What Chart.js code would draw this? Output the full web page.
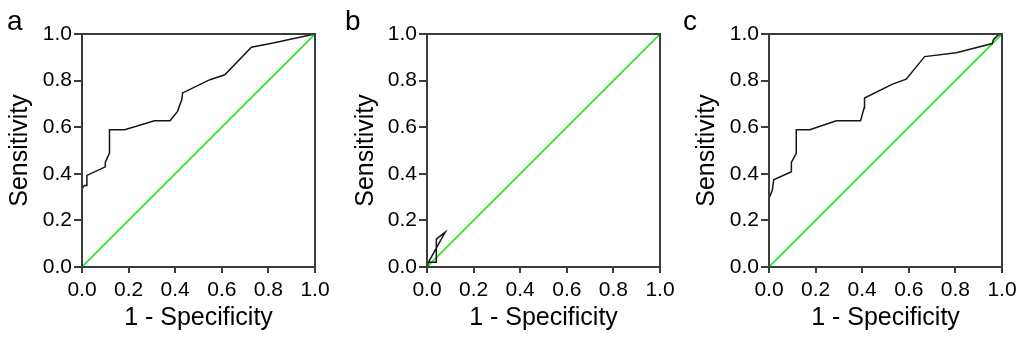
<!DOCTYPE html>
<html>
<head>
<meta charset="utf-8">
<script src="https://cdn.jsdelivr.net/npm/chart.js@4.4.0/dist/chart.umd.min.js"></script>
<style>
  html, body { margin: 0; padding: 0; background: #fff; }
  body { width: 1024px; height: 342px; position: relative; overflow: hidden; }
  .panel { position: absolute; top: 0; height: 342px; }
</style>
</head>
<body>
<div class="panel" style="left:0;width:340px"><canvas id="rocA"></canvas></div>
<div class="panel" style="left:340px;width:340px"><canvas id="rocB"></canvas></div>
<div class="panel" style="left:680px;width:344px"><canvas id="rocC"></canvas></div>
<script>
/* ROC curves, three panels (a, b, c) */

// shared
const panelLetters = ['a', 'b', 'c'];
const axisTicks = [0, 0.2, 0.4, 0.6, 0.8, 1.0];
const xTitle = '1 - Specificity';
const yTitle = 'Sensitivity';

// reference (chance) line
const diagX = [0, 1];
const diagY = [0, 1];

// panel a
const rocAX = [0, 0.01, 0.021, 0.021, 0.1, 0.1, 0.118, 0.118, 0.183, 0.311, 0.378, 0.41, 0.428, 0.432, 0.549, 0.613, 0.727, 0.82, 1.0];
const rocAY = [0.335, 0.35, 0.35, 0.393, 0.43, 0.45, 0.489, 0.589, 0.589, 0.628, 0.628, 0.668, 0.718, 0.747, 0.804, 0.825, 0.943, 0.961, 1.0];

// panel b
const rocBX = [0, 0.006, 0.04, 0.04, 0.078, 0.006];
const rocBY = [0, 0.02, 0.02, 0.12, 0.15, 0.02];

// panel c
const rocCX = [0, 0.014, 0.02, 0.096, 0.096, 0.117, 0.117, 0.175, 0.289, 0.393, 0.408, 0.41, 0.53, 0.589, 0.668, 0.804, 0.958, 0.964, 0.983, 1.0];
const rocCY = [0.295, 0.328, 0.374, 0.409, 0.449, 0.488, 0.589, 0.589, 0.628, 0.628, 0.682, 0.725, 0.785, 0.806, 0.903, 0.92, 0.959, 0.977, 0.996, 1.0];

const FONT = "'Liberation Sans', Arial, sans-serif";
const AXIS_COLOR = '#3c3c3c';
const GREEN = '#22e622';

function toPoints(xs, ys) {
  return xs.map((x, i) => ({ x: x, y: ys[i] }));
}

// box around the plot area + panel letter
const framePlugin = {
  id: 'frame',
  afterDraw(chart) {
    const { ctx: c, chartArea: { left, right, top, bottom } } = chart;
    c.save();
    c.strokeStyle = AXIS_COLOR;
    c.lineWidth = 2;
    c.strokeRect(left, top, right - left, bottom - top);
    const opts = chart.options.plugins.frame;
    c.fillStyle = '#000';
    c.font = `28px ${FONT}`;
    c.textBaseline = 'alphabetic';
    c.textAlign = 'left';
    c.fillText(opts.letter, opts.letterX, 30);
    c.restore();
  }
};

function createROC(canvasId, xs, ys, letter, letterX, padLeft, axisWidth, padRight) {
  const ctx = document.getElementById(canvasId);
  if (!ctx) return null;

  return new Chart(ctx, {
    type: 'scatter',
    data: {
      datasets: [{
        data: toPoints(xs, ys),
        showLine: true,
        borderColor: '#161616',
        borderWidth: 1.5,
        pointRadius: 0,
        tension: 0,
        fill: false,
      }, {
        data: toPoints(diagX, diagY),
        showLine: true,
        borderColor: GREEN,
        borderWidth: 1.6,
        pointRadius: 0,
        fill: false,
      }]
    },
    options: {
      responsive: true,
      maintainAspectRatio: false,
      animation: false,
      layout: { padding: { top: 34, left: padLeft, right: padRight, bottom: 0 } },
      plugins: {
        legend: { display: false },
        tooltip: { enabled: false },
        frame: { letter: letter, letterX: letterX },
      },
      scales: {
        x: {
          type: 'linear',
          min: 0,
          max: 1,
          afterBuildTicks: (axis) => { axis.ticks = axisTicks.map(v => ({ value: v })); },
          afterFit: (axis) => { axis.height = 75; },
          grid: { drawOnChartArea: false, drawTicks: true, tickLength: 6, color: AXIS_COLOR, lineWidth: 2 },
          border: { display: true, color: AXIS_COLOR, width: 2 },
          ticks: {
            color: '#000',
            padding: 5,
            maxRotation: 0,
            font: { family: FONT, size: 21 },
            callback: (val) => Number(val).toFixed(1),
          },
          title: {
            display: true,
            text: xTitle,
            color: '#000',
            font: { family: FONT, size: 25 },
            padding: { top: 0, bottom: 9 },
          },
        },
        y: {
          type: 'linear',
          min: 0,
          max: 1,
          afterBuildTicks: (axis) => { axis.ticks = axisTicks.map(v => ({ value: v })); },
          afterFit: (axis) => { axis.width = axisWidth; },
          grid: { drawOnChartArea: false, drawTicks: true, tickLength: 8, color: AXIS_COLOR, lineWidth: 2 },
          border: { display: true, color: AXIS_COLOR, width: 2 },
          ticks: {
            color: '#000',
            padding: 2,
            font: { family: FONT, size: 21 },
            callback: (val) => Number(val).toFixed(1),
          },
          title: {
            display: true,
            text: yTitle,
            color: '#000',
            font: { family: FONT, size: 25 },
            padding: { top: 5, bottom: 0 },
          },
        },
      },
    },
    plugins: [framePlugin],
  });
}

createROC('rocA', rocAX, rocAY, panelLetters[0], 7, 0, 82, 25);
createROC('rocB', rocBX, rocBY, panelLetters[1], 5, 6, 81, 20);
createROC('rocC', rocCX, rocCY, panelLetters[2], 3, 7, 82, 22);
</script>
</body>
</html>
